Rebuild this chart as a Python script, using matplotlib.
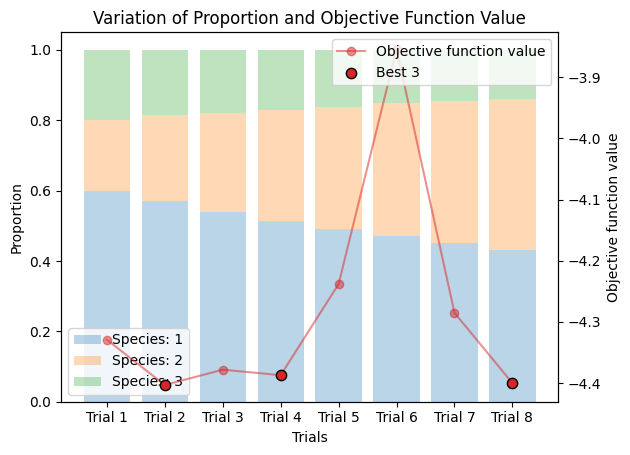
import matplotlib

matplotlib.use("Agg")
import matplotlib.pyplot as plt  # noqa: E402
import numpy as np  # noqa: E402

trials = ["Trial 1", "Trial 2", "Trial 3", "Trial 4", "Trial 5", "Trial 6", "Trial 7", "Trial 8"]
species_1 = [0.60, 0.57, 0.54, 0.515, 0.49, 0.47, 0.45, 0.43]
species_2 = [0.20, 0.245, 0.28, 0.315, 0.348, 0.378, 0.405, 0.43]
species_3 = [0.20, 0.185, 0.18, 0.17, 0.162, 0.152, 0.145, 0.14]
objective = [-4.329, -4.403, -4.378, -4.387, -4.238, -3.854, -4.285, -4.400]
best_idx = [1, 3, 7]

fig, ax = plt.subplots(figsize=(6.3, 4.55), dpi=100)
x = np.arange(len(trials))
bottom = np.zeros(len(trials))
for i, vals in enumerate([species_1, species_2, species_3]):
    ax.bar(x, vals, bottom=bottom, color=f"C{i}", alpha=0.3, label=f"Species: {i + 1}")
    bottom += np.asarray(vals)
ax.set_xticks(x)
ax.set_xticklabels(trials)
ax.set_xlabel("Trials")
ax.set_ylabel("Proportion")
ax.legend(loc="lower left")

ax2 = ax.twinx()
ax2.plot(x, objective, color="tab:red", marker="o", alpha=0.5, label="Objective function value")
ax2.scatter(x[best_idx], np.asarray(objective)[best_idx], color="tab:red",
            edgecolor="black", s=55, zorder=5, label="Best 3")
ax2.set_ylabel("Objective function value")
ax2.legend(loc="upper right")

ax.set_title("Variation of Proportion and Objective Function Value")
fig.subplots_adjust(left=0.097, right=0.886, bottom=0.117, top=0.929)
fig.savefig("out.png", dpi=100)
